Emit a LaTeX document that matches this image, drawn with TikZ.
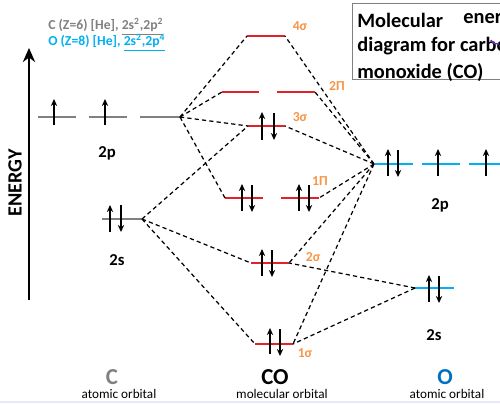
\documentclass[tikz,border=0pt]{standalone}
\usepackage{fontspec}
\setmainfont{Carlito}
\usetikzlibrary{arrows.meta}
\definecolor{mored}{RGB}{228,32,40}
\definecolor{aogray}{RGB}{128,128,128}
\definecolor{aocyan}{RGB}{0,176,240}
\definecolor{orng}{RGB}{247,150,70}
\definecolor{oblue}{RGB}{0,112,192}
\definecolor{lav}{RGB}{232,232,250}
\definecolor{purp}{RGB}{112,48,200}
\begin{document}
\begin{tikzpicture}[x=0.02cm,y=-0.02cm,
  molvl/.style={draw=mored,line width=1.1pt},
  clvl/.style={draw=aogray,line width=0.9pt},
  olvl/.style={draw=aocyan,line width=1.1pt},
  elec/.style={draw=black,line width=0.75pt,-{Stealth[length=4pt,width=3.6pt]}},
  corr/.style={draw=black,line width=0.7pt,dash pattern=on 2.4pt off 1.8pt},
  molab/.style={text=orng,font=\fontsize{7.8}{9}\selectfont\bfseries,inner sep=0pt},
  orblab/.style={font=\fontsize{9.5}{11}\selectfont\bfseries,inner sep=0pt},
  bigatom/.style={font=\fontsize{13}{15}\selectfont\bfseries,inner sep=0pt},
  small/.style={font=\fontsize{7.5}{9}\selectfont,inner sep=0pt},
  ttl/.style={font=\fontsize{11.6}{13}\selectfont\bfseries,inner sep=0pt,anchor=west}
]
\useasboundingbox (0,0) rectangle (500,403);
\clip (0,0) rectangle (500,403);
\fill[lav] (0,400.5) rectangle (500,403);

% header
\node[anchor=west,inner sep=0pt,text=aogray,font=\fontsize{7.8}{9}\selectfont\bfseries] (hc) at (48,27)
  {C (Z=6) [He], \underline{2s\textsuperscript{2},2p\textsuperscript{2}}};
\node[anchor=west,inner sep=0pt,text=aocyan,font=\fontsize{7.8}{9}\selectfont\bfseries] (ho) at (48,43)
  {O (Z=8) [He], \underline{2s\textsuperscript{2},2p\textsuperscript{4}}};

% title box
\draw[draw=aogray,line width=0.5pt] (352,3) rectangle (510,79);
\node[ttl] (t1) at (357,20) {Molecular};
\node[ttl] (t1b) at (463,20) {energy};
\node[ttl] (t2) at (357,46) {diagram for carbon};
\node[ttl] (t3) at (357,72) {monoxide (CO)};
\draw[purp,line width=0.8pt] (499,44) arc[start angle=80,end angle=150,radius=8];

% energy axis
\coordinate (eb) at (29,300);
\coordinate (et) at (29,48);
\draw[line width=1.3pt,-{Stealth[length=8pt,width=7pt]}] (eb) -- (et);
\node[rotate=90,font=\fontsize{11.5}{13}\selectfont\bfseries,inner sep=0pt] (en) at (15,183) {ENERGY};

% C atomic orbitals
\draw[clvl] (38,117) -- (76,117);
\draw[clvl] (89,117) -- (127,117);
\draw[clvl] (140,117) -- (180,117);
\coordinate (c2p) at (180,117);
\draw[elec] (54,125) -- (54,99);
\draw[elec] (105,125) -- (105,99);
\node[orblab] (l2pc) at (107,153) {2p};
\draw[clvl] (102,219) -- (142,219);
\coordinate (c2s) at (142,219);
\draw[elec] (110,232) -- (110,205);
\draw[elec] (121,205) -- (121,232);
\node[orblab] (l2sc) at (117,260) {2s};

% MO levels
\draw[molvl] (247,36) -- (285,36);
\coordinate (s4l) at (247,36); \coordinate (s4r) at (285,36);
\node[molab] (l4s) at (300,26) {4σ};

\draw[molvl] (222,92) -- (259,92);
\draw[molvl] (277,92) -- (315,92);
\coordinate (p2l) at (222,92); \coordinate (p2r) at (315,92);
\node[molab] (l2pi) at (337,86) {2Π};

\draw[molvl] (248,126) -- (285,126);
\coordinate (s3l) at (248,126); \coordinate (s3r) at (285,126);
\draw[elec] (262,140) -- (262,112);
\draw[elec] (274,113) -- (274,140);
\node[molab] (l3s) at (300,117) {3σ};

\draw[molvl] (225,198) -- (263,198);
\draw[molvl] (281,198) -- (319,198);
\coordinate (p1l) at (225,198); \coordinate (p1r) at (319,198);
\draw[elec] (242,211) -- (242,184);
\draw[elec] (252,185) -- (252,212);
\draw[elec] (299,211) -- (299,184);
\draw[elec] (309,185) -- (309,212);
\node[molab] (l1pi) at (320,181) {1Π};

\draw[molvl] (251,263) -- (289,263);
\coordinate (s2l) at (251,263); \coordinate (s2r) at (289,263);
\draw[elec] (262,276) -- (262,249);
\draw[elec] (272,250) -- (272,277);
\node[molab] (l2s) at (313,257) {2σ};

\draw[molvl] (255,344) -- (293,344);
\coordinate (s1l) at (255,344); \coordinate (s1r) at (293,344);
\draw[elec] (270,354) -- (270,328);
\draw[elec] (280,329) -- (280,356);
\node[molab] (l1s) at (305,353) {1σ};

% O atomic orbitals
\draw[olvl] (375,164) -- (413,164);
\draw[olvl] (422,164) -- (460,164);
\draw[olvl] (469,164) -- (507,164);
\coordinate (o2p) at (374,164);
\draw[elec] (388,176) -- (388,149);
\draw[elec] (398,150) -- (398,177);
\draw[elec] (438,176) -- (438,149);
\draw[elec] (486,176) -- (486,149);
\node[orblab] (l2po) at (440,205) {2p};
\draw[olvl] (415,288) -- (454,288);
\coordinate (o2s) at (415,288);
\draw[elec] (429,302) -- (429,275);
\draw[elec] (439,276) -- (439,303);
\node[orblab] (l2so) at (434,335) {2s};

% correlation lines
\draw[corr] (c2p) -- (s4l);
\draw[corr] (c2p) -- (p2l);
\draw[corr] (c2p) -- (s3l);
\draw[corr] (c2p) -- (p1l);
\draw[corr] (c2s) -- (s3l);
\draw[corr] (c2s) -- (s2l);
\draw[corr] (c2s) -- (s1l);
\draw[corr] (o2p) -- (s4r);
\draw[corr] (o2p) -- (p2r);
\draw[corr] (o2p) -- (s3r);
\draw[corr] (o2p) -- (p1r);
\draw[corr] (o2p) -- (s2r);
\draw[corr] (o2p) -- (s1r);
\draw[corr] (o2s) -- (s2r);
\draw[corr] (o2s) -- (s1r);

% bottom labels
\node[bigatom,text=aogray] (lc) at (112,377) {C};
\node[small] (lca) at (119,394) {atomic orbital};
\node[bigatom] (lco) at (275,377) {CO};
\node[small] (lcom) at (282,394) {molecular orbital};
\node[bigatom,text=oblue] (lo) at (445,377) {O};
\node[small] (loa) at (447,394) {atomic orbital};
\end{tikzpicture}
\end{document}
